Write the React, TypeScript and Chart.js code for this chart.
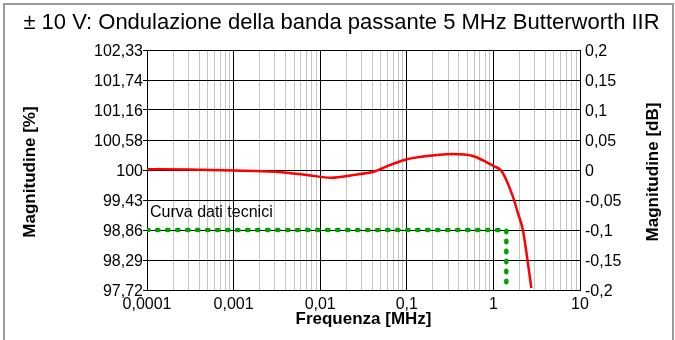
import React, { useEffect, useRef } from "react";
import { Chart, registerables } from "chart.js";

Chart.register(...registerables);

const TITLE = "± 10 V: Ondulazione della banda passante 5 MHz Butterworth IIR";
const X_TITLE = "Frequenza [MHz]";
const Y_LEFT_TITLE = "Magnitudine [%]";
const Y_RIGHT_TITLE = "Magnitudine [dB]";

// x axis decades (MHz) and their labels
const xDecades = [0.0001, 0.001, 0.01, 0.1, 1, 10];
const xDecadeLabels = ["0,0001", "0,001", "0,01", "0,1", "1", "10"];

// y ticks in dB and the two label sets
const yTicksDb = [-0.2, -0.15, -0.1, -0.05, 0, 0.05, 0.1, 0.15, 0.2];
const yLeftLabels = ["97,72", "98,29", "98,86", "99,43", "100", "100,58", "101,16", "101,74", "102,33"];
const yRightLabels = ["-0,2", "-0,15", "-0,1", "-0,05", "0", "0,05", "0,1", "0,15", "0,2"];

// measured response (frequency MHz, magnitude dB)
const respFreq = [0.0001, 0.0003, 0.001, 0.003, 0.007, 0.0135, 0.024, 0.041, 0.064, 0.1, 0.24, 0.34, 0.58, 1.0, 1.23, 1.41, 1.68, 1.92, 2.19, 2.46, 2.74];
const respDb = [0.0012, 0.0008, -0.0008, -0.003, -0.0083, -0.0128, -0.0083, -0.003, 0.0083, 0.018, 0.0256, 0.0267, 0.0233, 0.0067, -0.001, -0.0167, -0.0445, -0.072, -0.1, -0.147, -0.197];

// datasheet limit curve
const specFreq = [0.0001, 1.41, 1.41];
const specDb = [-0.1, -0.1, -0.2];
const SPEC_LABEL = "Curva dati tecnici";
const specLabelAt = { x: 0.0001, y: -0.071 };

const FONT = "'Liberation Sans', Arial, sans-serif";

function isDecade(v: number) {
  const l = Math.log10(v);
  return Math.abs(l - Math.round(l)) < 1e-6;
}

export default function App() {
  const ref = useRef<HTMLCanvasElement | null>(null);

  useEffect(() => {
    if (!ref.current) return;
    const labelPlugin = {
      id: "specLabel",
      afterDatasetsDraw(chart: any) {
        const { ctx, scales, chartArea } = chart;
        const x = scales.x.getPixelForValue(specLabelAt.x) + 3;
        const y = scales.y.getPixelForValue(specLabelAt.y);
        ctx.save();
        ctx.font = `16px ${FONT}`;
        ctx.fillStyle = "#000";
        ctx.textAlign = "left";
        ctx.textBaseline = "middle";
        ctx.fillText(SPEC_LABEL, x, y);
        // axis titles, both rotated to read bottom-to-top
        const cy = (chartArea.top + chartArea.bottom) / 2 + 2;
        ctx.font = `bold 17px ${FONT}`;
        ctx.textAlign = "center";
        ctx.textBaseline = "middle";
        const drawV = (text: string, x0: number) => {
          ctx.save();
          ctx.translate(x0, cy);
          ctx.rotate(-Math.PI / 2);
          ctx.fillText(text, 0, 0);
          ctx.restore();
        };
        drawV(Y_LEFT_TITLE, 30);
        drawV(Y_RIGHT_TITLE, chart.width - 22);
        ctx.restore();
      },
    };

    const chart = new Chart(ref.current, {
      type: "line",
      data: {
        datasets: [
          {
            data: specFreq.map((f, i) => ({ x: f, y: specDb[i] })),
            borderColor: "#00a000",
            borderWidth: 4.5,
            borderDash: [1.5, 8.5],
            borderCapStyle: "round",
            pointRadius: 0,
            fill: false,
            tension: 0,
            yAxisID: "y",
          },
          {
            data: respFreq.map((f, i) => ({ x: f, y: respDb[i] })),
            borderColor: "#ff0000",
            borderWidth: 2.5,
            pointRadius: 0,
            fill: false,
            cubicInterpolationMode: "monotone",
            yAxisID: "y",
          },
        ],
      },
      plugins: [labelPlugin],
      options: {
        animation: false,
        responsive: false,
        maintainAspectRatio: false,
        layout: { padding: { left: 16, right: 8, top: 0, bottom: 6 } },
        plugins: {
          legend: { display: false },
          tooltip: { enabled: false },
          title: {
            display: true,
            text: TITLE,
            color: "#000",
            font: { family: FONT, size: 22, weight: "normal" },
            padding: { top: 10, bottom: 13.6 },
          },
        },
        scales: {
          x: {
            type: "logarithmic",
            min: 0.0001,
            max: 10,
            afterBuildTicks(scale: any) {
              const t: any[] = [];
              for (let d = 0; d < xDecades.length; d++) {
                const base = xDecades[d];
                const maxM = d === xDecades.length - 1 ? 1 : 9;
                for (let m = 1; m <= maxM; m++) {
                  t.push({ value: Number((m * base).toPrecision(6)) });
                }
              }
              scale.ticks = t;
            },
            afterFit(scale: any) {
              scale.height = 44;
            },
            ticks: {
              autoSkip: false,
              maxRotation: 0,
              minRotation: 0,
              padding: 5,
              color: "#000",
              font: { family: FONT, size: 16 },
              callback(_v: any, i: number, ticks: any[]) {
                const v = ticks[i].value;
                if (!isDecade(v)) return "";
                const idx = xDecades.findIndex((d) => Math.abs(d - v) / d < 1e-6);
                return idx >= 0 ? xDecadeLabels[idx] : "";
              },
            },
            grid: {
              drawTicks: false,
              color: (ctx: any) => (ctx.tick && isDecade(ctx.tick.value) ? "#000" : "#c4c4c4"),
              lineWidth: 1,
            },
            border: { display: true, color: "#000" },
            title: {
              display: true,
              text: X_TITLE,
              color: "#000",
              font: { family: FONT, size: 17, weight: "bold" },
              padding: { top: 0, bottom: 4 },
            },
          },
          y: {
            type: "linear",
            position: "left",
            min: -0.2,
            max: 0.2,
            afterBuildTicks(scale: any) {
              scale.ticks = yTicksDb.map((v) => ({ value: v }));
            },
            afterFit(scale: any) {
              scale.width = 131;
            },
            ticks: {
              padding: 0,
              labelOffset: 2,
              color: "#000",
              font: { family: FONT, size: 16 },
              callback(_v: any, i: number) {
                return yLeftLabels[i];
              },
            },
            grid: { color: "#000", lineWidth: 1, tickLength: 4, drawTicks: true },
            border: { display: true, color: "#000" },
            title: { display: false },
          },
          y2: {
            type: "linear",
            position: "right",
            min: -0.2,
            max: 0.2,
            afterBuildTicks(scale: any) {
              scale.ticks = yTicksDb.map((v) => ({ value: v }));
            },
            afterFit(scale: any) {
              scale.width = 87;
            },
            ticks: {
              padding: 5,
              labelOffset: 2,
              color: "#000",
              font: { family: FONT, size: 16 },
              callback(_v: any, i: number) {
                return yRightLabels[i];
              },
            },
            grid: { drawOnChartArea: false, drawTicks: false },
            border: { display: true, color: "#000" },
            title: { display: false },
          },
        },
      },
    } as any);
    return () => chart.destroy();
  }, []);

  return (
    <div style={{ position: "fixed", left: 0, top: 0, width: 675, height: 340, background: "#fff", overflow: "hidden" }}>
      <div
        style={{
          position: "absolute",
          left: 3,
          top: 3,
          width: 671,
          height: 360,
          boxSizing: "border-box",
          border: "2px solid #9a9a9a",
        }}
      />
      <canvas ref={ref} width={675} height={340} style={{ position: "absolute", left: 0, top: 0 }} />
    </div>
  );
}
